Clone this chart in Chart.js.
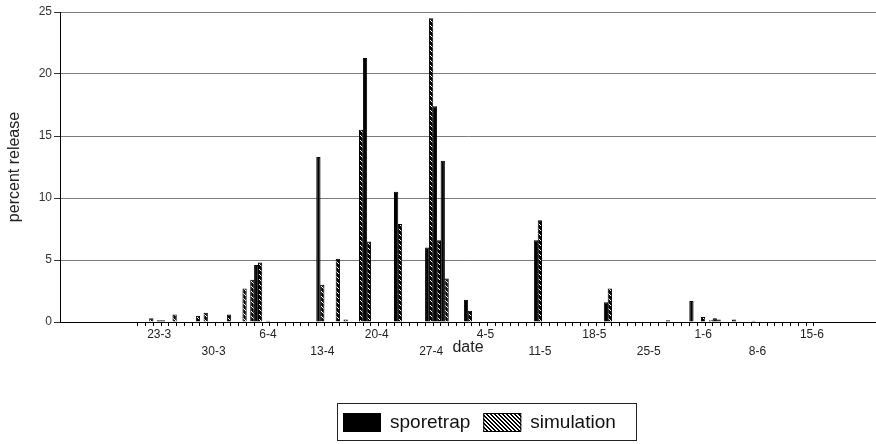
<!DOCTYPE html>
<html>
<head>
<meta charset="utf-8">
<script src="https://cdn.jsdelivr.net/npm/chart.js@4.4.0/dist/chart.umd.min.js"></script>
<style>
  html, body { margin: 0; padding: 0; background: #fff; }
  canvas { display: block; }
</style>
</head>
<body>
<canvas id="chart" width="876" height="444"></canvas>
<script>
// one category per day, 21 March to 15 June
const dates = [
  '21-3','22-3','23-3','24-3','25-3','26-3','27-3','28-3','29-3','30-3','31-3',
  '1-4','2-4','3-4','4-4','5-4','6-4','7-4','8-4','9-4','10-4',
  '11-4','12-4','13-4','14-4','15-4','16-4','17-4','18-4','19-4','20-4',
  '21-4','22-4','23-4','24-4','25-4','26-4','27-4','28-4','29-4','30-4',
  '1-5','2-5','3-5','4-5','5-5','6-5','7-5','8-5','9-5','10-5',
  '11-5','12-5','13-5','14-5','15-5','16-5','17-5','18-5','19-5','20-5',
  '21-5','22-5','23-5','24-5','25-5','26-5','27-5','28-5','29-5','30-5','31-5',
  '1-6','2-6','3-6','4-6','5-6','6-6','7-6','8-6','9-6','10-6',
  '11-6','12-6','13-6','14-6','15-6'
];

// percent release per day
const sporetrap = [
  0, 0, 0, 0.15, 0, 0, 0, 0, 0, 0, 0,                              // mar
  0, 0, 0, 0, 4.6, 0, 0, 0, 0, 0,
  0, 0, 13.3, 0, 0, 0, 0, 0, 21.3, 0,
  0, 0, 10.5, 0, 0, 0, 6.0, 17.4, 13.0, 0,                          // apr
  0, 1.8, 0, 0, 0, 0, 0, 0, 0, 0,
  6.6, 0, 0, 0, 0, 0, 0, 0, 0, 1.6,
  0, 0, 0, 0, 0, 0, 0, 0.15, 0, 0, 1.7,                             // may
  0, 0, 0.3, 0, 0, 0, 0, 0.1, 0, 0,
  0, 0, 0, 0, 0.05                                                  // jun
];
const simulation = [
  0, 0.3, 0.15, 0, 0.6, 0, 0, 0.5, 0.75, 0, 0,                      // mar
  0.6, 0, 2.7, 3.4, 4.8, 0.1, 0, 0, 0, 0,
  0, 0, 3.0, 0, 5.1, 0.2, 0, 15.5, 6.5, 0,
  0, 0, 7.9, 0, 0, 0, 24.5, 6.6, 3.5, 0,                            // apr
  0, 0.9, 0, 0, 0, 0, 0, 0, 0, 0,
  8.2, 0, 0, 0, 0, 0, 0, 0, 0, 2.7,
  0, 0, 0, 0, 0, 0, 0, 0, 0, 0, 0,                                  // may
  0.4, 0.15, 0.2, 0, 0.2, 0, 0, 0, 0, 0,
  0, 0, 0, 0, 0                                                     // jun
];

// weekly labels, staggered on two rows
const upperLabels = ['23-3', '6-4', '20-4', '4-5', '18-5', '1-6', '15-6'];
const lowerLabels = ['30-3', '13-4', '27-4', '11-5', '25-5', '8-6'];

// empty days either side so the bars sit where the original puts them
const padBefore = 10;
const padAfter = 8;
const labels = [...Array(padBefore).fill(''), ...dates, ...Array(padAfter).fill('')];
const padded = arr => [...Array(padBefore).fill(null), ...arr, ...Array(padAfter).fill(null)];

// diagonal hatch; dense=true gives the dark version used inside the thin bars
function hatch(dense) {
  const n = dense ? 5 : 4;
  const tile = document.createElement('canvas');
  tile.width = n;
  tile.height = n;
  const t = tile.getContext('2d');
  t.fillStyle = dense ? '#000' : '#fff';
  t.fillRect(0, 0, n, n);
  t.fillStyle = dense ? '#fff' : '#000';
  for (let i = 0; i < n; i++) {
    t.fillRect(i, i, 1, 1);
    if (!dense) t.fillRect((i + 1) % n, i, 1, 1);
  }
  return t.createPattern(tile, 'repeat');
}
const legendFills = { sporetrap: '#000', simulation: hatch(false) };

const boxLegend = {
  id: 'boxLegend',
  afterDraw(chart) {
    const ctx = chart.ctx;
    const x = 337, y = 403, w = 299, h = 37;
    ctx.save();
    ctx.strokeStyle = '#222';
    ctx.lineWidth = 1;
    ctx.strokeRect(x + 0.5, y + 0.5, w, h);
    ctx.font = '19px "Liberation Sans", Arial, sans-serif';
    ctx.textBaseline = 'middle';
    let cx = x + 6;
    chart.data.datasets.forEach(ds => {
      ctx.fillStyle = legendFills[ds.label];
      ctx.fillRect(cx, y + 10, 38, 19);
      ctx.strokeStyle = '#000';
      ctx.strokeRect(cx + 0.5, y + 10.5, 37, 18);
      cx += 47;
      ctx.fillStyle = '#111';
      ctx.fillText(ds.label, cx, y + 20);
      cx += ctx.measureText(ds.label).width + 13;
    });
    ctx.restore();
  }
};

Chart.defaults.font.family = '"Liberation Sans", Arial, sans-serif';
Chart.defaults.color = '#222';

new Chart(document.getElementById('chart'), {
  type: 'bar',
  data: {
    labels: labels,
    datasets: [
      {
        label: 'sporetrap',
        data: padded(sporetrap),
        backgroundColor: '#000',
        borderColor: '#000',
        borderWidth: 1,
      },
      {
        label: 'simulation',
        data: padded(simulation),
        backgroundColor: hatch(true),
        borderColor: '#000',
        borderWidth: 1,
      },
    ]
  },
  options: {
    responsive: false,
    animation: false,
    devicePixelRatio: 1,
    layout: {
      padding: { top: 12, right: 0, bottom: 87, left: 0 }
    },
    datasets: {
      bar: { categoryPercentage: 1.0, barPercentage: 1.1 }
    },
    plugins: {
      legend: { display: false },
      tooltip: { enabled: false },
    },
    scales: {
      x: {
        grid: {
          offset: true,
          drawOnChartArea: false,
          tickLength: 4,
          tickColor: (c) => (c.index >= padBefore && c.index <= padBefore + dates.length) ? '#000' : 'rgba(0,0,0,0)',
        },
        border: { color: '#000', width: 1 },
        ticks: {
          autoSkip: false,
          maxRotation: 0,
          minRotation: 0,
          padding: 0,
          labelOffset: 2,
          color: '#222',
          font: { size: 12, lineHeight: 1.4 },
          callback: function (value) {
            const l = this.getLabelForValue(value);
            if (upperLabels.includes(l)) return [l, ''];
            if (lowerLabels.includes(l)) return ['', l];
            return '';
          }
        },
        title: {
          display: true,
          text: 'date',
          color: '#222',
          font: { size: 16 },
          padding: { top: 0, bottom: 0 },
        },
        afterFit: (scale) => { scale.height = 35; },
      },
      y: {
        min: 0,
        max: 25,
        grid: {
          color: '#7a7a7a',
          tickColor: '#333',
          tickLength: 6,
        },
        border: { color: '#000', width: 1 },
        ticks: {
          stepSize: 5,
          padding: 2,
          color: '#333',
          font: { size: 12 },
        },
        title: {
          display: true,
          text: 'percent release',
          color: '#222',
          font: { size: 16 },
          padding: { top: 5, bottom: 0 },
        },
        afterFit: (scale) => { scale.width = 60; },
      }
    }
  },
  plugins: [boxLegend]
});
</script>
</body>
</html>
